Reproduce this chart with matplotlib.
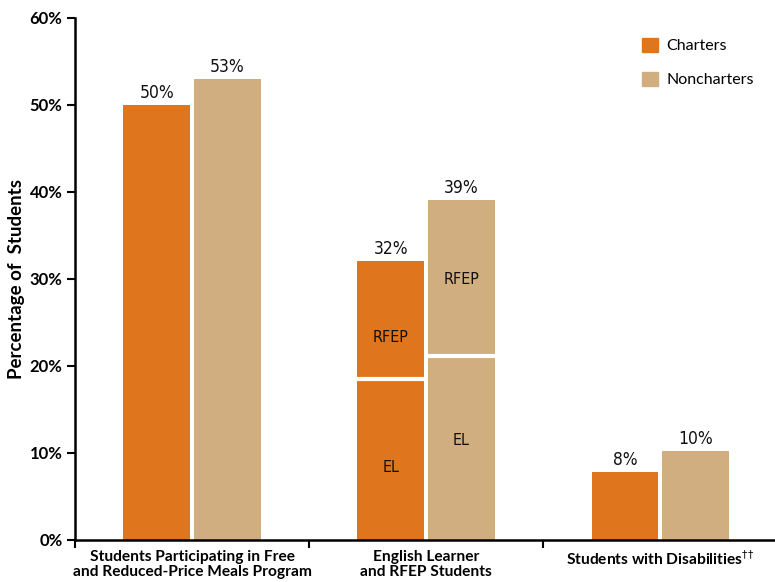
import matplotlib
matplotlib.use("Agg")
import matplotlib.pyplot as plt
import numpy as np
from matplotlib.patches import Patch

categories = ["Students Participating in Free\nand Reduced-Price Meals Program",
              "English Learner\nand RFEP Students",
              r"Students with Disabilities$^{\dag\dag}$"]
charters = [50.0, 32.1, 7.8]
noncharters = [53.0, 39.1, 10.2]
charter_labels = ["50%", "32%", "8%"]
noncharter_labels = ["53%", "39%", "10%"]
# EL portion for the second group (rest is RFEP)
el_charter = 18.5
el_noncharter = 21.2
yticks = [0, 10, 20, 30, 40, 50, 60]
ytick_labels = ["0%", "10%", "20%", "30%", "40%", "50%", "60%"]

c_orange = "#DF761E"
c_tan = "#D0AE80"

main = ["Lato", "DejaVu Sans"]
cond_kw = dict(family="DejaVu Sans", fontstretch="condensed")

fig = plt.figure(figsize=(7.75, 5.82), dpi=100)
ax = fig.add_axes([0.0968, 0.0722, 0.9032, 0.897])

x = np.arange(len(categories))
w = 0.285
off = w / 2 + 0.0085

ax.bar(x - off, charters, width=w, color=c_orange, zorder=2)
ax.bar(x + off, noncharters, width=w, color=c_tan, zorder=2)

# white separators for EL / RFEP
ax.hlines(el_charter, x[1] - off - w / 2, x[1] - off + w / 2, color="white", lw=3, zorder=3)
ax.hlines(el_noncharter, x[1] + off - w / 2, x[1] + off + w / 2, color="white", lw=3, zorder=3)

seg_kw = dict(ha="center", va="center", fontsize=11.5, color="#111111", zorder=4, **cond_kw)
ax.text(x[1] - off, el_charter * 0.45, "EL", **seg_kw)
ax.text(x[1] - off, el_charter + 0.35 * (charters[1] - el_charter), "RFEP", **seg_kw)
ax.text(x[1] + off, el_noncharter * 0.54, "EL", **seg_kw)
ax.text(x[1] + off, el_noncharter + 0.49 * (noncharters[1] - el_noncharter), "RFEP", **seg_kw)

for i in range(len(categories)):
    ax.text(x[i] - off, charters[i] + 0.35, charter_labels[i], ha="center", va="bottom",
            fontsize=12.5, color="#111111", **cond_kw)
    ax.text(x[i] + off, noncharters[i] + 0.35, noncharter_labels[i], ha="center", va="bottom",
            fontsize=12.5, color="#111111", **cond_kw)

ax.set_xlim(-0.5, 2.49)
ax.set_ylim(0, 60)
ax.set_yticks(yticks)
ax.set_yticklabels(ytick_labels, fontsize=12, fontweight="bold", family=main)
ax.set_xticks([-0.5, 0.5, 1.5])
ax.set_xticklabels([])
ax.set_xticks(x, minor=True)
ax.set_xticklabels(categories, minor=True, fontsize=11.2, fontweight="bold", family=main,
                   linespacing=1.15)
ax.tick_params(axis="x", which="minor", length=0, pad=7)
ax.tick_params(axis="x", which="major", length=6, width=1.5, direction="out")
ax.tick_params(axis="y", length=6, width=1.5, direction="out", pad=3)
for s in ["top", "right"]:
    ax.spines[s].set_visible(False)
ax.spines["left"].set_linewidth(1.8)
ax.spines["bottom"].set_linewidth(1.8)

ax.set_ylabel("Percentage of  Students", fontsize=13.5, fontweight="bold", family=main, labelpad=3)

handles = [Patch(color=c_orange, label="Charters"), Patch(color=c_tan, label="Noncharters")]
leg = ax.legend(handles=handles, loc="upper right", bbox_to_anchor=(0.99, 0.99), frameon=False,
                prop={"family": main, "size": 11.5}, handlelength=1.0, handleheight=1.0,
                labelspacing=1.15, handletextpad=0.5)

fig.savefig("out.png", dpi=100)
